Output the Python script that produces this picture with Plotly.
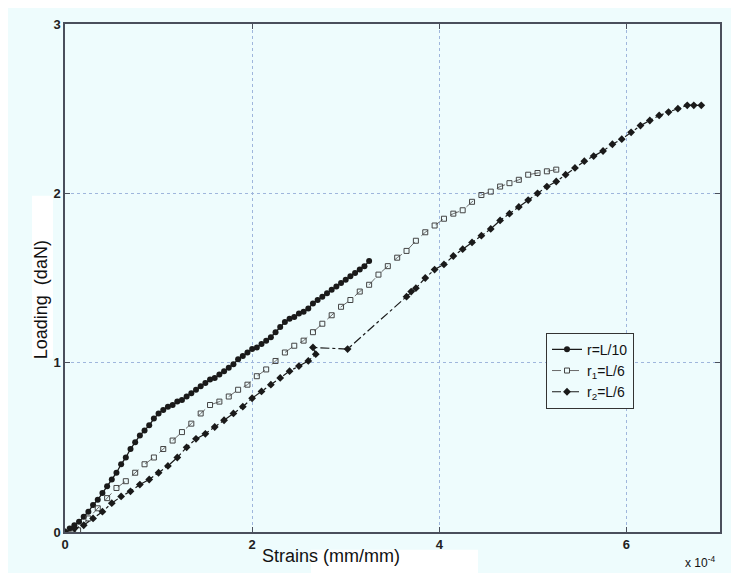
import plotly.graph_objects as go

# Strain values are in units of 1e-4 mm/mm (axis shows "x 10^-4")
r10_strain = [0, 0.05, 0.1, 0.15, 0.2, 0.25, 0.3, 0.35, 0.4, 0.45, 0.5, 0.55, 0.6, 0.65, 0.7,
              0.75, 0.8, 0.85, 0.9, 0.95, 1.0, 1.05, 1.1, 1.15, 1.2, 1.25, 1.3, 1.35, 1.4, 1.45,
              1.5, 1.55, 1.6, 1.65, 1.7, 1.75, 1.8, 1.85, 1.9, 1.95, 2.0, 2.05, 2.1, 2.15, 2.2,
              2.25, 2.3, 2.35, 2.4, 2.45, 2.5, 2.55, 2.6, 2.65, 2.7, 2.75, 2.8, 2.85, 2.9, 2.95,
              3.0, 3.05, 3.1, 3.15, 3.2, 3.25]
r10_load = [0, 0.02, 0.04, 0.06, 0.09, 0.12, 0.16, 0.19, 0.23, 0.27, 0.31, 0.35, 0.40, 0.44, 0.49,
            0.53, 0.57, 0.60, 0.63, 0.67, 0.70, 0.72, 0.74, 0.75, 0.77, 0.78, 0.80, 0.82, 0.84, 0.86,
            0.88, 0.90, 0.91, 0.93, 0.95, 0.97, 0.99, 1.02, 1.04, 1.06, 1.08, 1.09, 1.11, 1.13, 1.15,
            1.18, 1.21, 1.24, 1.26, 1.27, 1.29, 1.30, 1.32, 1.35, 1.37, 1.39, 1.41, 1.43, 1.45, 1.47,
            1.49, 1.51, 1.53, 1.55, 1.57, 1.60]

r1_strain = [0.0, 0.14, 0.25, 0.35, 0.45, 0.55, 0.65, 0.75, 0.85, 0.95, 1.05, 1.15, 1.25, 1.35,
             1.45, 1.55, 1.65, 1.75, 1.85, 1.95, 2.05, 2.15, 2.25, 2.35, 2.45, 2.55, 2.65, 2.75,
             2.85, 2.95, 3.05, 3.15, 3.25, 3.35, 3.45, 3.55, 3.65, 3.75, 3.85, 3.95, 4.05, 4.15,
             4.25, 4.35, 4.45, 4.55, 4.65, 4.75, 4.85, 4.95, 5.05, 5.15, 5.25]
r1_load = [0.0, 0.01, 0.08, 0.14, 0.20, 0.26, 0.30, 0.35, 0.40, 0.44, 0.49, 0.54, 0.59, 0.64,
           0.70, 0.75, 0.77, 0.80, 0.84, 0.87, 0.92, 0.96, 1.01, 1.06, 1.10, 1.13, 1.18, 1.23,
           1.28, 1.33, 1.37, 1.42, 1.46, 1.52, 1.57, 1.62, 1.66, 1.72, 1.77, 1.81, 1.85, 1.88,
           1.90, 1.95, 1.99, 2.01, 2.04, 2.06, 2.08, 2.11, 2.12, 2.13, 2.14]

r2_strain = [0, 0.1, 0.2, 0.3, 0.4, 0.5, 0.6, 0.7, 0.8, 0.9, 1.0, 1.1, 1.2, 1.3, 1.4, 1.5, 1.6,
             1.7, 1.8, 1.9, 2.0, 2.1, 2.2, 2.3, 2.4, 2.5, 2.6, 2.68, 2.65, 3.02, 3.65, 3.7, 3.75,
             3.85, 3.95, 4.05, 4.15, 4.25, 4.35, 4.45, 4.55, 4.65, 4.75, 4.85, 4.95, 5.05, 5.15,
             5.25, 5.35, 5.45, 5.55, 5.65, 5.75, 5.85, 5.95, 6.05, 6.15, 6.25, 6.35, 6.45, 6.55,
             6.65, 6.72, 6.8]
r2_load = [0, 0.02, 0.04, 0.08, 0.12, 0.17, 0.21, 0.24, 0.28, 0.31, 0.35, 0.39, 0.44, 0.50, 0.55,
           0.58, 0.62, 0.66, 0.70, 0.74, 0.79, 0.83, 0.87, 0.91, 0.95, 0.98, 1.01, 1.05, 1.09, 1.08,
           1.39, 1.42, 1.44, 1.50, 1.55, 1.58, 1.63, 1.67, 1.71, 1.75, 1.79, 1.84, 1.88, 1.92, 1.96,
           2.00, 2.04, 2.07, 2.11, 2.15, 2.19, 2.22, 2.25, 2.29, 2.32, 2.36, 2.40, 2.43, 2.46, 2.48,
           2.50, 2.52, 2.52, 2.52]

x_ticks = [0, 2, 4, 6]
y_ticks = [0, 1, 2, 3]

BG = "#eefcfd"
INK = "#1a1a1a"
GRID = "#9fb6dc"
FONT = "Liberation Sans, Arial, sans-serif"

# plot area in pixels (for placing annotations in paper coords)
L, R, T, B = 57, 712, 9, 524
W, H = R - L, B - T


def px(x):
    return (x - L) / W


def py(y):
    return (B - y) / H


fig = go.Figure()
fig.add_trace(go.Scatter(x=r10_strain, y=r10_load, name="r=L/10", mode="lines+markers",
                         line=dict(color=INK, width=1.3),
                         marker=dict(symbol="circle", size=6, color=INK)))
fig.add_trace(go.Scatter(x=r1_strain, y=r1_load, name="r<sub>1</sub>=L/6", mode="lines+markers",
                         line=dict(color="#6a6a6a", width=1, dash="dash"),
                         marker=dict(symbol="square-open", size=5, color="#444444",
                                     line=dict(width=1))))
fig.add_trace(go.Scatter(x=r2_strain, y=r2_load, name="r<sub>2</sub>=L/6", mode="lines+markers",
                         line=dict(color=INK, width=1.2, dash="dashdot"),
                         marker=dict(symbol="diamond", size=6, color=INK)))

axis_common = dict(showline=True, mirror="ticks", linecolor="#4a4f5c", linewidth=1.5,
                   ticks="inside", ticklen=5, tickcolor="#4a4f5c",
                   showgrid=True, gridcolor=GRID, griddash="dot", gridwidth=1,
                   zeroline=False,
                   tickfont=dict(family=FONT, size=13, color="#222222"))

fig.update_xaxes(range=[0, 7], tickmode="array", tickvals=x_ticks,
                 ticktext=["<b>%d</b>" % v for v in x_ticks], **axis_common)
fig.update_yaxes(range=[0, 3], tickmode="array", tickvals=y_ticks,
                 ticktext=["<b>%d</b>" % v for v in y_ticks], **axis_common)

fig.update_layout(
    width=739, height=573,
    margin=dict(l=L, r=739 - R, t=T, b=573 - B),
    paper_bgcolor=BG, plot_bgcolor=BG,
    showlegend=True,
    legend=dict(x=px(538), y=py(322), xanchor="left", yanchor="top",
                bgcolor=BG, bordercolor="#333333", borderwidth=1,
                font=dict(family=FONT, size=14, color="#111111"),
                tracegroupgap=0, itemwidth=30),
    shapes=[
        dict(type="rect", xref="paper", yref="paper", x0=px(24), x1=px(45), y0=py(348), y1=py(183),
             fillcolor="white", line=dict(width=0), layer="below"),
        dict(type="rect", xref="paper", yref="paper", x0=px(303), x1=px(470), y0=py(580), y1=py(542),
             fillcolor="white", line=dict(width=0), layer="below"),
    ],
    annotations=[
        dict(text="Strains (mm/mm)", xref="paper", yref="paper", x=px(252), y=py(548),
             xanchor="left", yanchor="middle", showarrow=False,
             font=dict(family=FONT, size=18, color="#111111")),
        dict(text="Loading  (daN)", xref="paper", yref="paper", x=px(33), y=py(289),
             xanchor="center", yanchor="middle", textangle=-90, showarrow=False,
             font=dict(family=FONT, size=18, color="#111111")),
        dict(text="x 10<sup>-4</sup>", xref="paper", yref="paper", x=px(692), y=py(554),
             xanchor="center", yanchor="middle", showarrow=False,
             font=dict(family=FONT, size=12, color="#111111")),
    ],
)

fig.write_html("out.html")
